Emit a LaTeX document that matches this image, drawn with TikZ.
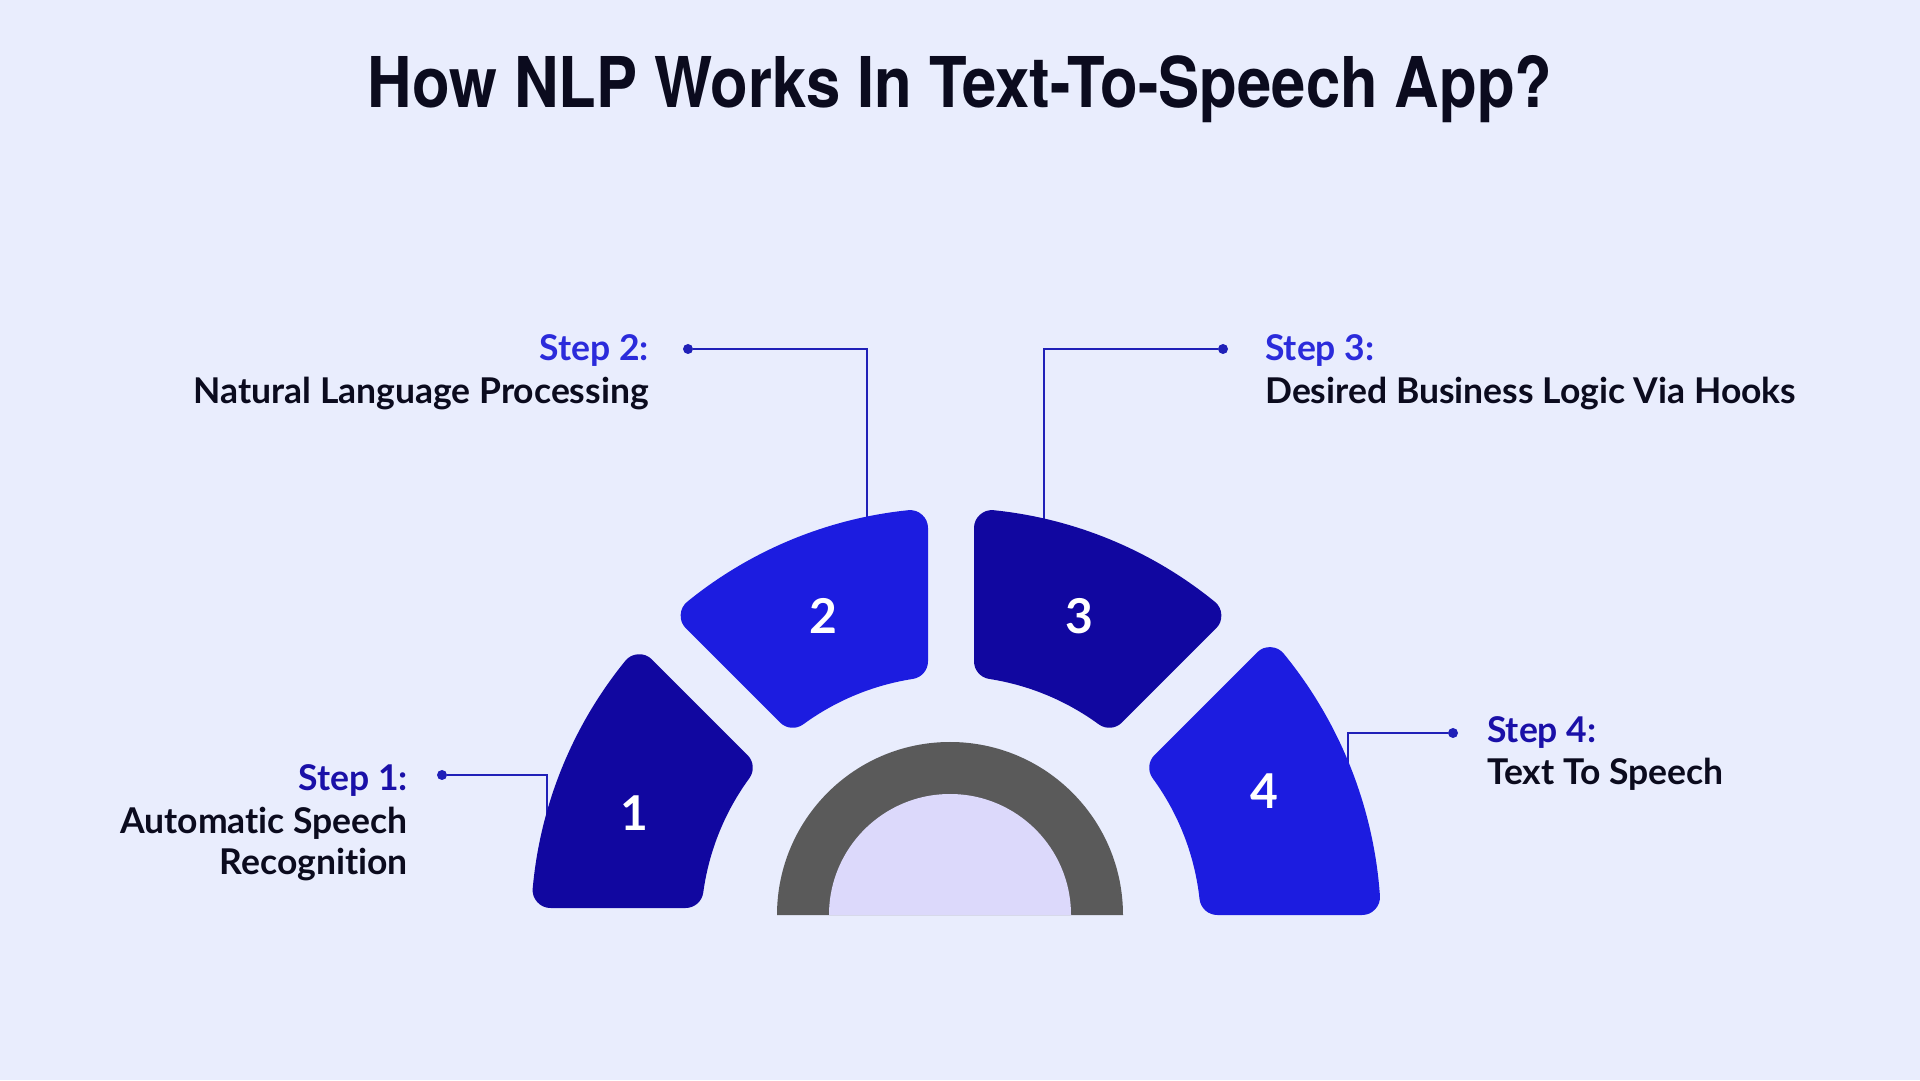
\documentclass[tikz,border=0pt]{standalone}
\usepackage{graphicx}
\usepackage{fontspec}
\setmainfont{Lato}[Ligatures=NoCommon]
\newfontfamily\titlefont{TeX Gyre Heros}
\usepackage{tikz}
\usetikzlibrary{positioning}
\definecolor{bgpage}{HTML}{E9EDFD}
\definecolor{navyseg}{HTML}{1107A0}
\definecolor{royalseg}{HTML}{1C1CE0}
\definecolor{ringgray}{HTML}{5A5A5A}
\definecolor{corefill}{HTML}{DCD9FB}
\definecolor{inkdark}{HTML}{0B0B1E}
\definecolor{steplight}{HTML}{2B2BDB}
\definecolor{stepdark}{HTML}{1A10A8}
\definecolor{leadblue}{HTML}{2020B8}

\begin{document}
\begin{tikzpicture}[
  x=1pt, y=1pt,
  title/.style={font=\titlefont\bfseries\fontsize{70}{80}\selectfont, text=inkdark, anchor=base},
  steptag/.style={font=\bfseries\fontsize{35.5}{40}\selectfont, inner sep=0pt},
  desc/.style={font=\bfseries\fontsize{35.5}{40}\selectfont, text=inkdark, inner sep=0pt},
  num/.style={font=\bfseries\fontsize{48}{50}\selectfont, text=white},
  dot/.style={circle, fill=leadblue, inner sep=0pt, minimum size=10pt},
  lead/.style={draw=leadblue, line width=2pt},
  seg/.style={line width=36pt, line join=round}
]
\useasboundingbox (0,0) rectangle (1920,1080);
\fill[bgpage] (0,0) rectangle (1920,1080);

\node[title] (title) at (960,972) {\scalebox{0.88}[1]{How NLP Works In Text-To-Speech App?}};

% leader lines
\node[dot] (dot1) at (442,305) {};
\node[dot] (dot2) at (688,731) {};
\node[dot] (dot3) at (1223,731) {};
\node[dot] (dot4) at (1453,347) {};
\coordinate (e1) at (547,258);
\coordinate (e2) at (867,548);
\coordinate (e3) at (1044,548);
\coordinate (e4) at (1348,300);
\draw[lead] (dot1) -| (e1);
\draw[lead] (dot2) -| (e2);
\draw[lead] (dot3) -| (e3);
\draw[lead] (dot4) -| (e4);

% ring segments
\begin{scope}[shift={(951,154)}]
\foreach \n/\lo/\hi/\wlo/\whi/\R/\col in {1/135/180/23/18/420/navyseg, 2/90/135/23/23/418/royalseg, 3/45/90/23/23/418/navyseg, 4/0/45/11/23/430/royalseg}
{
  \pgfmathsetmacro\Ro{\R-18}
  \pgfmathsetmacro\ri{250+18}
  \pgfmathsetmacro\aoh{\hi-asin((\whi+18)/\Ro)}
  \pgfmathsetmacro\aol{\lo+asin((\wlo+18)/\Ro)}
  \pgfmathsetmacro\ail{\lo+asin((\wlo+18)/\ri)}
  \pgfmathsetmacro\aih{\hi-asin((\whi+18)/\ri)}
  \filldraw[seg, fill=\col, draw=\col] (\aoh:\Ro) arc[start angle=\aoh, end angle=\aol, radius=\Ro]
    -- (\ail:\ri) arc[start angle=\ail, end angle=\aih, radius=\ri] -- cycle;
}
\node[num] (n1) at (-317,113) {1};
\node[num] (n2) at (-128,310) {2};
\node[num] (n3) at (128,310) {3};
\node[num] (n4) at (313,135) {4};
\end{scope}

% core
\begin{scope}[shift={(950,165)}]
\fill[ringgray] (180:173) arc[start angle=180, end angle=0, radius=173] -- cycle;
\fill[corefill] (180:121) arc[start angle=180, end angle=0, radius=121] -- cycle;
\end{scope}

% labels
\node[steptag, text=stepdark, anchor=base east] (s1) at (408,289) {Step 1:};
\node[desc, anchor=base east] (d1a) at (408,247) {Automatic Speech};
\node[desc, anchor=base east] (d1b) at (408,206) {Recognition};
\node[steptag, text=steplight, anchor=base east] (s2) at (649,719) {Step 2:};
\node[desc, anchor=base east] (d2) at (649,676) {Natural Language Processing};
\node[steptag, text=steplight, anchor=base west] (s3) at (1265,719) {Step 3:};
\node[desc, anchor=base west] (d3) at (1265,676) {Desired Business Logic Via Hooks};
\node[steptag, text=stepdark, anchor=base west] (s4) at (1487,337) {Step 4:};
\node[desc, anchor=base west] (d4) at (1487,295) {Text To Speech};
\end{tikzpicture}
\end{document}
